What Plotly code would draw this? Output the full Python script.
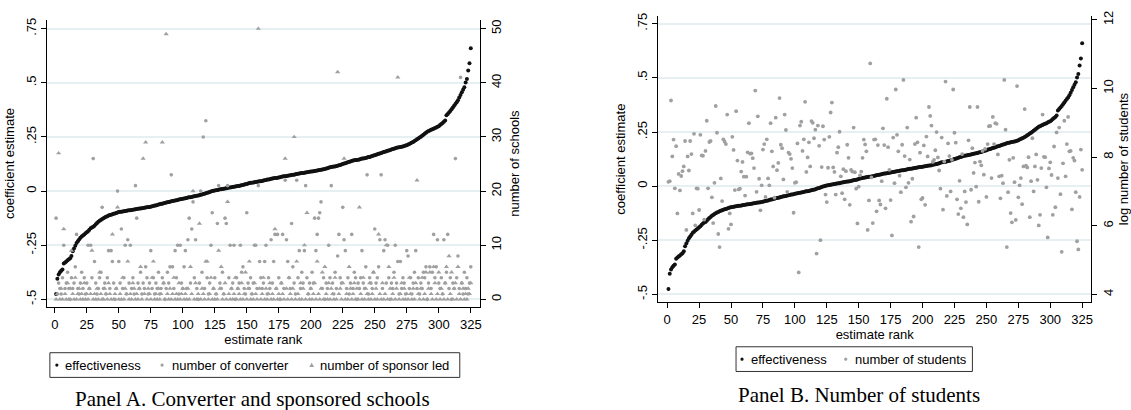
import plotly.graph_objects as go

# ---------------- data ----------------
rank_ticks = [0, 25, 50, 75, 100, 125, 150, 175, 200, 225, 250, 275, 300, 325]
coef_ticks = [-0.5, -0.25, 0, 0.25, 0.5, 0.75]
coef_labels = ["-.5", "-.25", "0", ".25", ".5", ".75"]
school_ticks = [0, 10, 20, 30, 40, 50]
student_ticks = [4, 6, 8, 10, 12]

effectiveness = [
    -0.475, -0.405, -0.385, -0.375, -0.368, -0.362, -0.335, -0.330, -0.325, -0.320,
    -0.315, -0.310, -0.300, -0.278, -0.265, -0.252, -0.240, -0.232, -0.224, -0.215,
    -0.210, -0.205, -0.200, -0.195, -0.190, -0.185, -0.178, -0.172, -0.168, -0.165,
    -0.160, -0.153, -0.147, -0.142, -0.137, -0.133, -0.129, -0.125, -0.122, -0.119,
    -0.116, -0.113, -0.111, -0.109, -0.107, -0.105, -0.103, -0.101, -0.099, -0.097,
    -0.096, -0.095, -0.094, -0.093, -0.092, -0.091, -0.090, -0.089, -0.088, -0.087,
    -0.086, -0.085, -0.084, -0.083, -0.082, -0.081, -0.080, -0.079, -0.078, -0.077,
    -0.076, -0.075, -0.074, -0.073, -0.072, -0.070, -0.069, -0.067, -0.066, -0.064,
    -0.062, -0.061, -0.059, -0.058, -0.056, -0.055, -0.053, -0.052, -0.050, -0.049,
    -0.047, -0.046, -0.045, -0.043, -0.042, -0.041, -0.039, -0.038, -0.037, -0.035,
    -0.034, -0.033, -0.032, -0.030, -0.029, -0.028, -0.027, -0.025, -0.024, -0.023,
    -0.022, -0.020, -0.019, -0.017, -0.016, -0.014, -0.012, -0.010, -0.008, -0.006,
    -0.004, -0.002, 0.000, 0.002, 0.003, 0.004, 0.005, 0.006, 0.008, 0.009,
    0.010, 0.011, 0.012, 0.013, 0.014, 0.016, 0.017, 0.018, 0.019, 0.020,
    0.021, 0.022, 0.023, 0.024, 0.026, 0.027, 0.028, 0.030, 0.031, 0.033,
    0.035, 0.037, 0.038, 0.039, 0.040, 0.041, 0.042, 0.043, 0.044, 0.045,
    0.046, 0.047, 0.049, 0.050, 0.051, 0.053, 0.054, 0.055, 0.057, 0.058,
    0.059, 0.060, 0.061, 0.062, 0.063, 0.064, 0.066, 0.067, 0.068, 0.069,
    0.070, 0.071, 0.072, 0.073, 0.074, 0.075, 0.076, 0.078, 0.079, 0.080,
    0.081, 0.082, 0.083, 0.084, 0.085, 0.086, 0.087, 0.088, 0.089, 0.090,
    0.091, 0.092, 0.093, 0.094, 0.095, 0.096, 0.097, 0.099, 0.100, 0.101,
    0.102, 0.104, 0.106, 0.108, 0.110, 0.111, 0.112, 0.113, 0.114, 0.116,
    0.117, 0.119, 0.121, 0.123, 0.125, 0.127, 0.129, 0.131, 0.133, 0.135,
    0.137, 0.139, 0.141, 0.142, 0.143, 0.144, 0.145, 0.146, 0.148, 0.150,
    0.151, 0.152, 0.153, 0.155, 0.157, 0.158, 0.160, 0.162, 0.164, 0.166,
    0.168, 0.170, 0.172, 0.174, 0.176, 0.178, 0.180, 0.182, 0.184, 0.186,
    0.188, 0.190, 0.192, 0.194, 0.196, 0.198, 0.200, 0.201, 0.203, 0.204,
    0.205, 0.206, 0.208, 0.210, 0.212, 0.215, 0.218, 0.221, 0.224, 0.227,
    0.231, 0.235, 0.239, 0.243, 0.247, 0.251, 0.256, 0.260, 0.265, 0.270,
    0.274, 0.277, 0.280, 0.283, 0.286, 0.288, 0.291, 0.294, 0.297, 0.300,
    0.305, 0.310, 0.315, 0.320, 0.326, 0.350, 0.356, 0.363, 0.370, 0.378,
    0.386, 0.394, 0.402, 0.410, 0.420, 0.432, 0.444, 0.457, 0.468, 0.480,
    0.502, 0.518, 0.557, 0.590, 0.660,
]

converter = [
    15, 1, 3, 2, 1, 4, 10, 2, 3, 5, 2, 0, 4, 2, 3, 6, 12, 2, 1, 3, 5, 2, 4, 1, 3,
    10, 2, 10, 4, 26, 7, 3, 1, 2, 4, 5, 17, 2, 3, 1, 4, 9, 2, 9, 7, 3, 0, 2, 20, 7,
    3, 13, 2, 4, 10, 1, 11, 3, 10, 2, 4, 1, 21, 15, 3, 2, 5, 1, 3, 2, 6, 4, 1, 3, 9,
    2, 4, 1, 3, 2, 5, 1, 2, 4, 3, 0, 2, 5, 3, 6, 23, 6, 2, 9, 4, 10, 1, 10, 3, 2,
    6, 9, 2, 11, 15, 3, 13, 18, 4, 11, 2, 0, 3, 20, 5, 30, 2, 33, 4, 1, 3, 10, 16, 2, 4,
    1, 14, 21, 3, 2, 5, 1, 15, 14, 21, 4, 10, 2, 3, 10, 0, 4, 2, 3, 10, 5, 6, 2, 1, 16,
    3, 2, 4, 1, 3, 10, 10, 2, 21, 7, 4, 2, 3, 7, 10, 1, 4, 2, 11, 3, 7, 12, 2, 12, 4,
    0, 3, 12, 2, 22, 11, 7, 4, 2, 14, 6, 3, 1, 22, 4, 9, 2, 5, 3, 9, 21, 4, 1, 3, 2,
    5, 3, 15, 9, 12, 15, 16, 18, 2, 4, 0, 3, 2, 10, 4, 21, 3, 1, 5, 2, 8, 12, 4, 3, 17,
    11, 9, 2, 4, 1, 3, 12, 2, 5, 4, 0, 3, 2, 4, 9, 3, 2, 6, 23, 1, 4, 3, 2, 5, 13,
    3, 4, 6, 11, 23, 2, 9, 11, 3, 10, 4, 0, 3, 2, 5, 10, 3, 7, 1, 7, 2, 4, 3, 1, 9,
    8, 2, 4, 1, 3, 5, 9, 2, 4, 1, 3, 2, 5, 4, 6, 0, 3, 6, 2, 5, 12, 4, 6, 11, 3,
    2, 4, 1, 11, 3, 5, 12, 2, 4, 0, 3, 2, 26, 4, 8, 2, 41, 3, 1, 5, 2, 4, 1, 3, 6,
]

sponsor_led = [
    0, 1, 27, 0, 2, 0, 13, 1, 0, 3, 0, 2, 9, 1, 0, 4, 0, 1, 2, 0, 1, 0, 3, 0, 1,
    0, 2, 1, 9, 0, 1, 0, 2, 0, 5, 1, 0, 0, 2, 1, 0, 3, 1, 0, 12, 0, 1, 2, 17, 0,
    1, 0, 4, 0, 2, 1, 7, 0, 1, 0, 3, 2, 0, 1, 0, 2, 6, 0, 26, 1, 29, 0, 2, 1, 0,
    4, 7, 0, 1, 0, 2, 0, 1, 29, 3, 0, 49, 1, 0, 2, 0, 1, 4, 0, 1, 0, 3, 0, 1, 2,
    0, 1, 0, 2, 0, 6, 1, 20, 0, 3, 0, 1, 14, 0, 2, 1, 0, 7, 7, 0, 1, 4, 0, 2, 0,
    1, 0, 9, 2, 6, 0, 1, 3, 0, 18, 1, 0, 2, 0, 1, 4, 0, 2, 1, 0, 3, 0, 1, 5, 0,
    2, 7, 0, 1, 0, 3, 1, 0, 50, 2, 0, 1, 4, 0, 2, 0, 1, 3, 0, 1, 0, 13, 2, 0, 1,
    0, 3, 1, 0, 26, 2, 0, 4, 1, 0, 2, 30, 0, 7, 1, 0, 3, 0, 2, 10, 0, 16, 1, 0, 2,
    0, 1, 3, 0, 7, 1, 0, 2, 5, 0, 6, 1, 0, 3, 0, 2, 1, 0, 4, 0, 42, 1, 2, 0, 3,
    26, 0, 1, 0, 6, 2, 0, 1, 3, 0, 2, 0, 17, 1, 0, 4, 0, 2, 1, 0, 3, 0, 1, 5, 0,
    2, 0, 12, 1, 0, 3, 0, 1, 10, 0, 6, 2, 0, 1, 4, 0, 2, 41, 0, 1, 3, 0, 2, 0, 1,
    0, 4, 1, 0, 2, 0, 3, 22, 1, 0, 2, 4, 0, 1, 5, 0, 2, 5, 1, 0, 6, 3, 0, 1, 5,
    0, 2, 1, 0, 3, 6, 0, 8, 1, 5, 0, 2, 3, 0, 6, 1, 0, 3, 2, 0, 1, 0, 2, 1, 3,
]

log_students = [
    7.28, 7.30, 9.65, 8.02, 8.51, 7.09, 8.32, 6.36, 7.51, 7.03,
    7.45,
    7.59, 7.73, 8.47, 5.88, 8.02, 7.61, 8.47, 8.09, 6.36, 8.68, 6.01, 7.09, 7.08, 6.46, 8.65,
    8.05,
    8.04, 6.18, 8.18, 9.06, 7.09, 8.44, 8.47, 6.83, 6.08, 7.25, 9.49, 8.71, 5.76, 5.38, 7.38,
    6.72,
    8.52, 8.45, 8.38, 9.24, 5.91, 6.36, 6.04, 8.59, 8.21, 7.04, 9.34, 7.90, 7.06, 7.08, 7.58,
    7.86,
    7.43, 6.88, 7.43, 8.14, 8.99, 8.10, 8.11, 7.97, 7.68, 9.94, 6.99, 9.19, 7.37, 6.45, 7.18,
    8.22,
    8.38, 6.84, 8.52, 7.38, 7.18, 8.99, 8.17, 7.73, 6.82, 9.15, 7.62, 7.83, 9.72, 8.36, 8.26,
    7.35,
    9.24, 8.79, 6.99, 8.13, 8.09, 7.95, 7.68, 6.38, 7.25, 7.27, 8.40, 4.64, 8.92, 9.03, 8.18,
    8.52, 9.61, 7.57, 7.99, 8.43, 7.73, 9.05, 9.00, 8.55, 8.80, 5.19, 8.92, 8.33, 5.58, 7.71,
    8.90, 8.51, 6.91, 6.69, 7.69, 8.59, 9.30, 9.59, 7.70, 7.57, 6.91, 8.13, 8.29, 8.74, 7.44,
    6.95,
    7.65, 6.77, 7.59, 8.36, 7.98, 6.61, 7.63, 7.58, 8.86, 7.56, 7.08, 6.07, 7.14, 7.47, 7.58,
    7.98, 8.51, 8.37, 8.17, 5.88, 6.74,
    10.73, 7.41, 6.08, 8.51, 8.52, 6.42, 8.35, 6.74, 6.62, 7.30,
    8.84, 8.35, 6.51, 9.70, 8.29, 7.63, 6.75, 5.72, 8.57, 7.24,
    9.97, 8.65, 8.17, 7.46, 6.98, 8.36, 10.25, 8.03, 7.12, 8.86,
    7.25, 7.93, 6.12, 7.37, 6.27, 8.38, 9.15, 8.43, 5.38, 8.13,
    6.77, 6.81, 8.34, 6.61, 8.60, 8.02, 9.46, 9.20, 8.92, 7.86,
    7.92, 8.20, 8.73, 7.99, 7.61, 7.08, 8.57, 6.47, 7.87, 10.20,
    6.87, 8.40, 8.03, 7.00, 7.92, 9.97, 8.71, 8.42, 6.77, 6.34,
    7.31, 6.51, 8.09, 6.25, 7.00, 6.69, 6.04, 8.49, 9.46, 7.05,
    8.26, 7.54, 7.84, 7.14, 9.46, 6.70, 7.87, 7.76, 8.18, 7.49,
    8.24, 6.84, 8.38, 8.90, 8.91, 7.39, 9.17, 8.38, 8.99, 8.97,
    8.08, 7.44, 6.80, 7.46, 7.24, 10.25, 8.80, 5.38, 6.98, 7.92,
    6.37, 6.10, 7.98, 7.27, 6.17, 10.07, 6.83, 7.18, 7.39, 6.63,
    7.73, 9.40, 7.75, 7.70, 8.00, 6.25, 7.30,
    8.55,
    7.00, 7.73, 8.08, 7.34, 6.01, 6.32, 7.68, 9.24, 8.01, 8.00,
    7.12,
    5.66, 7.67, 7.85, 7.48, 6.32, 8.31, 6.54, 8.72, 7.39, 8.86,
    6.92,
    5.24, 7.82, 9.06, 7.44, 8.38, 9.17, 8.17, 8.18, 6.48, 7.98,
    7.90,
    6.98, 5.55, 5.31, 6.84, 8.22, 7.63,
]

legend_a_labels = ["effectiveness", "number of converter", "number of sponsor led"]
legend_b_labels = ["effectiveness", "number of students"]

# ---------------- figure ----------------
W, H = 1131, 410
BLACK = "#111111"
GRAY = "#a0a0a0"
GRID = "#e6eff1"
FONT = "Liberation Sans, Arial, sans-serif"
SERIF = "Liberation Serif, Times New Roman, serif"


def ranks(values):
    return list(range(1, len(values) + 1))


def px_x(p):
    return p / W


def px_y(p):
    return 1 - p / H


fig = go.Figure()

# Panel A
fig.add_trace(go.Scatter(x=ranks(effectiveness), y=effectiveness, mode="markers",
                         name=legend_a_labels[0], showlegend=False,
                         marker=dict(color=BLACK, size=4), xaxis="x", yaxis="y"))
fig.add_trace(go.Scatter(x=ranks(converter), y=converter, mode="markers",
                         name=legend_a_labels[1], showlegend=False,
                         marker=dict(color=GRAY, size=3.6), xaxis="x", yaxis="y2"))
fig.add_trace(go.Scatter(x=ranks(sponsor_led), y=sponsor_led, mode="markers",
                         name=legend_a_labels[2], showlegend=False,
                         marker=dict(color=GRAY, size=4.6, symbol="triangle-up"),
                         xaxis="x", yaxis="y2"))

# Panel B
fig.add_trace(go.Scatter(x=ranks(effectiveness), y=effectiveness, mode="markers",
                         name=legend_b_labels[0], showlegend=False,
                         marker=dict(color=BLACK, size=4), xaxis="x2", yaxis="y3"))
fig.add_trace(go.Scatter(x=ranks(log_students), y=log_students, mode="markers",
                         name=legend_b_labels[1], showlegend=False,
                         marker=dict(color=GRAY, size=3.8), xaxis="x2", yaxis="y4"))

tick_font = dict(family=FONT, size=13, color="black")
title_font = dict(family=FONT, size=13, color="black")

# pixel geometry
A_left, A_right, A_top, A_bot = 47, 481, 15, 306
B_left, B_right, B_top, B_bot = 660, 1094, 11, 301

A_coef_range = [-0.5366, 0.791]
A_sch_range = [(v + 0.5) * 40 for v in A_coef_range]
B_coef_range = [-0.5365, 0.7865]
B_stu_range = [3.77, 12.115]

xcommon = dict(tickmode="array", tickvals=rank_ticks, ticks="outside", ticklen=5,
               tickcolor="black", showline=True, linecolor="black", linewidth=1,
               showgrid=False, zeroline=False, tickfont=tick_font,
               title=dict(text="estimate rank", font=title_font, standoff=2))
ycommon = dict(ticks="outside", ticklen=5, tickcolor="black", showline=True,
               linecolor="black", linewidth=1, zeroline=False, tickfont=tick_font,
               tickangle=-90)

# ---- hand-built legends (boxes, symbols, texts) ----
shapes = []
annotations = []


def legend_box(x0, x1, y0, y1):
    shapes.append(dict(type="rect", xref="paper", yref="paper",
                       x0=px_x(x0), x1=px_x(x1), y0=px_y(y1), y1=px_y(y0),
                       line=dict(color="#333333", width=1), fillcolor="white"))


def legend_dot(cx, cy, color, r=1.6):
    shapes.append(dict(type="circle", xref="paper", yref="paper",
                       x0=px_x(cx - r), x1=px_x(cx + r), y0=px_y(cy + r), y1=px_y(cy - r),
                       line=dict(width=0), fillcolor=color))


def legend_tri(cx, cy, color, s=2.4):
    p = "M {} {} L {} {} L {} {} Z".format(
        px_x(cx - s), px_y(cy + s * 0.8), px_x(cx + s), px_y(cy + s * 0.8),
        px_x(cx), px_y(cy - s * 1.0))
    shapes.append(dict(type="path", xref="paper", yref="paper", path=p,
                       line=dict(width=0), fillcolor=color))


def legend_text(x, y, text):
    annotations.append(dict(text=text, x=px_x(x), y=px_y(y), xref="paper", yref="paper",
                            xanchor="left", yanchor="middle", showarrow=False,
                            font=dict(family=FONT, size=13, color="black")))


# Panel A legend
legend_box(50, 461, 352, 377)
legend_dot(57, 364.5, BLACK)
legend_text(63, 364.5, legend_a_labels[0])
legend_dot(162.5, 364.5, GRAY)
legend_text(170, 364.5, legend_a_labels[1])
legend_tri(312.5, 364.5, GRAY)
legend_text(319, 364.5, legend_a_labels[2])

# Panel B legend
legend_box(738, 975, 346, 371)
legend_dot(744, 358.5, BLACK)
legend_text(750.5, 358.5, legend_b_labels[0])
legend_dot(848, 358.5, GRAY)
legend_text(855.5, 358.5, legend_b_labels[1])

annotations.append(dict(text="Panel A. Converter and sponsored schools", x=px_x(253.5),
                        y=px_y(399), xref="paper", yref="paper", xanchor="center",
                        yanchor="middle", showarrow=False,
                        font=dict(family=SERIF, size=21, color="black")))
annotations.append(dict(text="Panel B. Number of students", x=px_x(861), y=px_y(395),
                        xref="paper", yref="paper", xanchor="center", yanchor="middle",
                        showarrow=False, font=dict(family=SERIF, size=21, color="black")))

fig.update_layout(
    width=W, height=H, margin=dict(l=0, r=0, t=0, b=0),
    paper_bgcolor="white", plot_bgcolor="white", showlegend=False,
    xaxis=dict(domain=[px_x(A_left), px_x(A_right)], range=[-6.2, 332], anchor="y",
               **xcommon),
    yaxis=dict(domain=[px_y(A_bot), px_y(A_top)], range=A_coef_range, anchor="x",
               tickmode="array", tickvals=coef_ticks, ticktext=coef_labels,
               showgrid=True, gridcolor=GRID, gridwidth=1.5,
               title=dict(text="coefficient estimate", font=title_font, standoff=6),
               **ycommon),
    yaxis2=dict(domain=[px_y(A_bot), px_y(A_top)], range=A_sch_range, anchor="x",
                overlaying="y", side="right", tickmode="array", tickvals=school_ticks,
                showgrid=False,
                title=dict(text="number of schools", font=title_font, standoff=6),
                **ycommon),
    xaxis2=dict(domain=[px_x(B_left), px_x(B_right)], range=[-7.0, 332], anchor="y3",
                **xcommon),
    yaxis3=dict(domain=[px_y(B_bot), px_y(B_top)], range=B_coef_range, anchor="x2",
                tickmode="array", tickvals=coef_ticks, ticktext=coef_labels,
                showgrid=True, gridcolor=GRID, gridwidth=1.5,
                title=dict(text="coefficient estimate", font=title_font, standoff=6),
                **ycommon),
    yaxis4=dict(domain=[px_y(B_bot), px_y(B_top)], range=B_stu_range, anchor="x2",
                overlaying="y3", side="right", tickmode="array", tickvals=student_ticks,
                showgrid=False,
                title=dict(text="log number of students", font=title_font, standoff=6),
                **ycommon),
    shapes=shapes,
    annotations=annotations,
)

fig.write_html("out.html")
